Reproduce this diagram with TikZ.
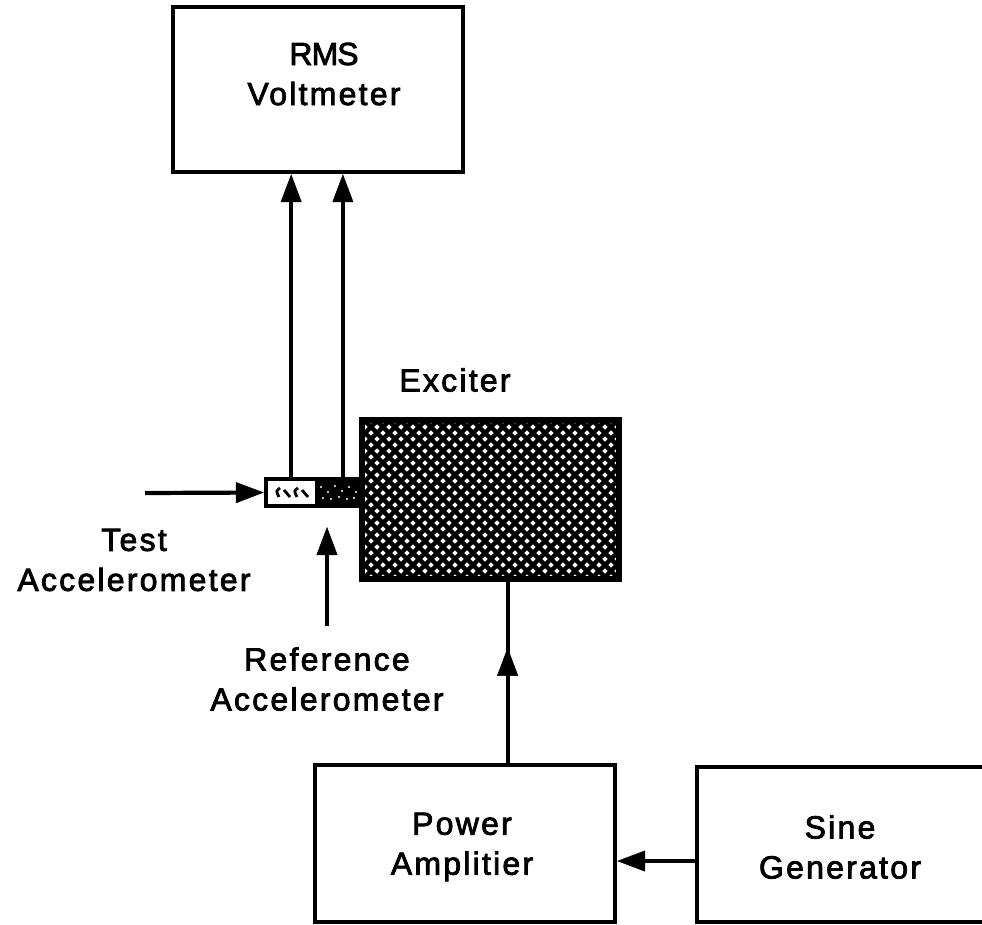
\documentclass[tikz,border=0pt]{standalone}
\usepackage{fontspec}
\setmainfont{Liberation Sans}[LetterSpace=7,FakeBold=2.5]
\usetikzlibrary{arrows.meta,calc,decorations.markings}
\tikzset{
  box/.style={draw, line width=4.4pt, fill=white, inner sep=0pt},
  lbl/.style={font=\fontsize{32}{40}\selectfont, align=center, inner sep=0pt},
  arr/.style={line width=4.2pt, -{Triangle[length=28pt,width=21pt,line width=0.5pt]}},
  wire/.style={line width=4.2pt},
  hatchline/.style={line width=4.3pt},
}
\begin{document}
\begin{tikzpicture}[x=1pt,y=-1pt]
\useasboundingbox (0,0) rectangle (982,924);
\clip (0,0) rectangle (982,924);

% RMS Voltmeter
\node[box, minimum width=290pt, minimum height=165pt] (vm) at (318,89.5) {};
\node[lbl] (vmt) at (324,74) {{\addfontfeature{LetterSpace=-3}RMS}\\Voltmeter};

% Exciter with crosshatch
\node[box, minimum width=255pt, minimum height=157pt] (ex) at (490.5,499.5) {};
\begin{scope}
  \clip (ex.south west) rectangle (ex.north east);
  \foreach \a in {180,192,...,636} {
    \draw[hatchline] (\a,582) -- ({\a+166},416);
    \draw[hatchline] (\a,416) -- ({\a+166},582);
  }
\end{scope}
\draw[line width=4.4pt] (ex.south west) rectangle (ex.north east);
\node[lbl] (ext) at (455,380) {Exciter};

% Accelerometers
\node[box, minimum width=97pt, minimum height=27pt] (acc) at (314.5,492.5) {};
\fill ($(acc.north west)!0.505!(acc.north east)$) rectangle (acc.south east);
\foreach \p in {(321,487),(328,492),(335,486),(342,491),(349,487),(356,492),(323,498),(331,499),(339,497),(347,499),(354,498)} {
  \fill[white] \p circle (1.2pt);
}
\draw[line width=2.8pt] (280,488) .. controls (276,491) .. (279,497);
\draw[line width=2.8pt] (284,490) -- (290,497);
\draw[line width=2.8pt] (298,488) .. controls (294,491) .. (297,497);
\draw[line width=2.8pt] (302,490) -- (308,497);

% Connectors to voltmeter
\coordinate (o1) at ($(acc.north west)!0.27!(acc.north east)$);
\coordinate (o2) at ($(acc.north west)!0.78!(acc.north east)$);
\draw[arr] (o1) -- (o1 |- vm.south);
\draw[arr] (o2) -- (o2 |- vm.south);

% Test accelerometer label and arrow
\coordinate (tstart) at (145,493);
\draw[arr] (tstart) -- (acc.west);
\node[lbl] (tt) at (134,560) {Test\\Accelerometer};

% Reference accelerometer label and arrow
\coordinate (rstart) at (327,626);
\coordinate (rtip) at (327,527);
\draw[arr] (rstart) -- (rtip);
\node[lbl] (rt) at (327,679) {Reference\\Accelerometer};

% Power amplifier and sine generator
\node[box, minimum width=300pt, minimum height=157pt] (pa) at (465,843.5) {};
\node[lbl] (pat) at (462,847) {Power\\Amplitier};
\node[box, minimum width=340pt, minimum height=155pt] (sg) at (867,844.5) {};
\node[lbl] (sgt) at (840,847) {Sine\\Generator};

% Sine -> power amp
\draw[arr] (sg.west |- 0,861) -- (pa.east |- 0,861);

% Power amp -> exciter with mid arrowhead
\coordinate (pin) at ($(pa.north west)!0.64!(pa.north east)$);
\draw[wire, postaction={decorate}, decoration={markings, mark=at position 0.63 with {\arrow{Triangle[length=28pt,width=21pt,line width=0.5pt]}}}] (pin) -- (pin |- ex.south);
\end{tikzpicture}
\end{document}
